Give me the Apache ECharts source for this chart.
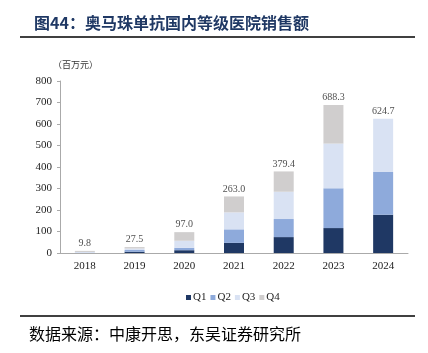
<!DOCTYPE html>
<html><head><meta charset="utf-8">
<script src="https://cdn.jsdelivr.net/npm/echarts@6/dist/echarts.min.js"></script>
<style>html,body{margin:0;padding:0;background:#fff}#c{width:428px;height:353px}</style>
</head><body><div id="c"></div>
<script>
var years = ['2018','2019','2020','2021','2022','2023','2024'];
var q1 = [0, 6, 13, 47, 74, 116, 178];
var q2 = [0, 8, 11, 63, 84, 185, 199];
var q3 = [5, 7, 33, 79, 127, 208, 248];
var q4 = [4.8, 6.5, 40, 74, 94.4, 179.3, null];
var totals = [9.8, 27.5, 97.0, 263.0, 379.4, 688.3, 624.7];
var yTicks = [0, 100, 200, 300, 400, 500, 600, 700, 800];
var names = ['Q1','Q2','Q3','Q4'];
var colors = ['#1f3864','#8eaadb','#d9e2f3','#d0cece'];
var serif = '"Liberation Serif", "Times New Roman", serif';
var cjk = '"Noto Sans CJK SC", sans-serif';

var chart = echarts.init(document.getElementById('c'), null, {renderer:'canvas'});
var data = [q1,q2,q3,q4];
var series = data.map(function(d,i){
  return {name:names[i], type:'bar', stack:'s', barWidth:20, data:d,
    itemStyle:{color:colors[i]}, emphasis:{disabled:true}};
});
series.push({name:'total', type:'scatter', data:totals, symbol:'rect', symbolSize:1,
  itemStyle:{color:'rgba(0,0,0,0)'}, silent:true, z:5,
  label:{show:true, position:'top', distance:2, fontFamily:serif, fontSize:10, color:'#222',
    formatter:function(p){return p.value.toFixed(1);}}});
chart.setOption({
  animation:false,
  backgroundColor:'#fff',
  title:{text:'图44：奥马珠单抗国内等级医院销售额', left:29, top:10,
    textStyle:{fontFamily:cjk, fontSize:16, fontWeight:'bold', color:'#1f3864'}},
  graphic:[
    {type:'line', shape:{x1:20,y1:37,x2:415,y2:37}, style:{stroke:'#000',lineWidth:1.5}},
    {type:'line', shape:{x1:20,y1:316,x2:415,y2:316}, style:{stroke:'#000',lineWidth:1.5}},
    {type:'text', left:53, top:60, style:{text:'（百万元）', font:'9px '+cjk, fill:'#333'}},
    {type:'text', left:29, top:326, style:{text:'数据来源：中康开思，东吴证券研究所', font:'16px '+cjk, fill:'#000'}}
  ],
  legend:{data:names, top:287, left:181, itemWidth:5, itemHeight:5, itemGap:4,
    icon:'rect', textStyle:{fontFamily:serif, fontSize:11, color:'#222', padding:[0,0,0,-3]}},
  grid:{left:60, right:20, top:81, bottom:100},
  xAxis:{type:'category', data:years,
    axisLine:{lineStyle:{color:'#aaa'}}, axisTick:{show:false},
    axisLabel:{fontFamily:serif, fontSize:11, color:'#222', margin:8}},
  yAxis:{type:'value', min:yTicks[0], max:yTicks[yTicks.length-1], interval:100,
    axisLine:{show:true, lineStyle:{color:'#aaa'}}, axisTick:{show:true, length:3, lineStyle:{color:'#aaa'}},
    splitLine:{show:false},
    axisLabel:{fontFamily:serif, fontSize:11, color:'#222', margin:8}},
  series:series
});
</script></body></html>
